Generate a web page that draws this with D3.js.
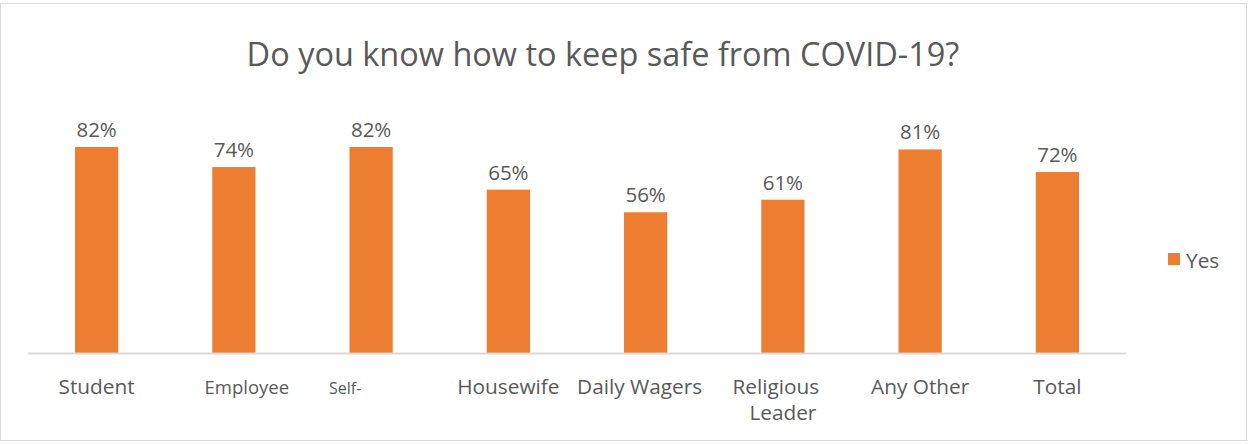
<!DOCTYPE html>
<html><head><meta charset="utf-8">
<script src="https://cdn.jsdelivr.net/npm/d3@7"></script>
<style>body{margin:0;background:#fff}svg{display:block}text{font-family:"Open Sans",sans-serif;fill:#595959}</style>
</head><body><svg id="c" width="1249" height="444"></svg>
<script>
const categories = ["Student","Employee","Self-","Housewife","Daily Wagers","Religious Leader","Any Other","Total"];
const yesValues = [0.82,0.74,0.82,0.65,0.56,0.61,0.81,0.72];
const valueLabels = ["82%","74%","82%","65%","56%","61%","81%","72%"];
const seriesName = "Yes";
const titleText = "Do you know how to keep safe from COVID-19?";

const svg = d3.select("#c");
svg.append("rect").attr("x",0.5).attr("y",3.5).attr("width",1246).attr("height",437)
  .attr("fill","#fff").attr("stroke","#D9D9D9");

const x = d3.scaleBand().domain(categories).range([28,1126]).paddingInner(0.685).paddingOuter(0.3425);
const y = d3.scaleLinear().domain([0,1]).range([353,101.7]);

const title = svg.append("text").attr("x",603).attr("y",66).attr("text-anchor","middle")
  .attr("font-size",30).text(titleText);
const tw = title.node().getComputedTextLength();
title.attr("font-size",30*713/tw);

svg.selectAll("rect.bar").data(yesValues).join("rect").attr("class","bar")
  .attr("x",(d,i)=>x(categories[i])).attr("width",x.bandwidth())
  .attr("y",d=>y(d)).attr("height",d=>y(0)-y(d)).attr("fill","#ED7D31");

svg.selectAll("text.val").data(yesValues).join("text").attr("class","val")
  .attr("x",(d,i)=>x(categories[i])+x.bandwidth()/2).attr("y",d=>y(d)-10)
  .attr("text-anchor","middle").attr("font-size",20.5).text((d,i)=>valueLabels[i]);

svg.append("line").attr("x1",28).attr("x2",1126).attr("y1",353.5).attr("y2",353.5)
  .attr("stroke","#D9D9D9").attr("stroke-width",2);

const labelShift = {"Employee":13,"Self-":-26,"Daily Wagers":-6,"Religious Leader":-7};
const labelSize = {"Employee":18.5,"Self-":16};
categories.forEach(c=>{
  const cx = x(c)+x.bandwidth()/2 + (labelShift[c]||0);
  const t = svg.append("text").attr("x",cx).attr("y",394).attr("text-anchor","middle")
    .attr("font-size",labelSize[c]||20.8);
  if(c==="Religious Leader"){
    t.append("tspan").attr("x",cx).text("Religious");
    t.append("tspan").attr("x",cx+7).attr("dy",26).text("Leader");
  } else t.text(c);
});

svg.append("rect").attr("x",1168).attr("y",253).attr("width",12).attr("height",12).attr("fill","#ED7D31");
svg.append("text").attr("x",1186).attr("y",268).attr("font-size",20.8).text(seriesName);
</script></body></html>
